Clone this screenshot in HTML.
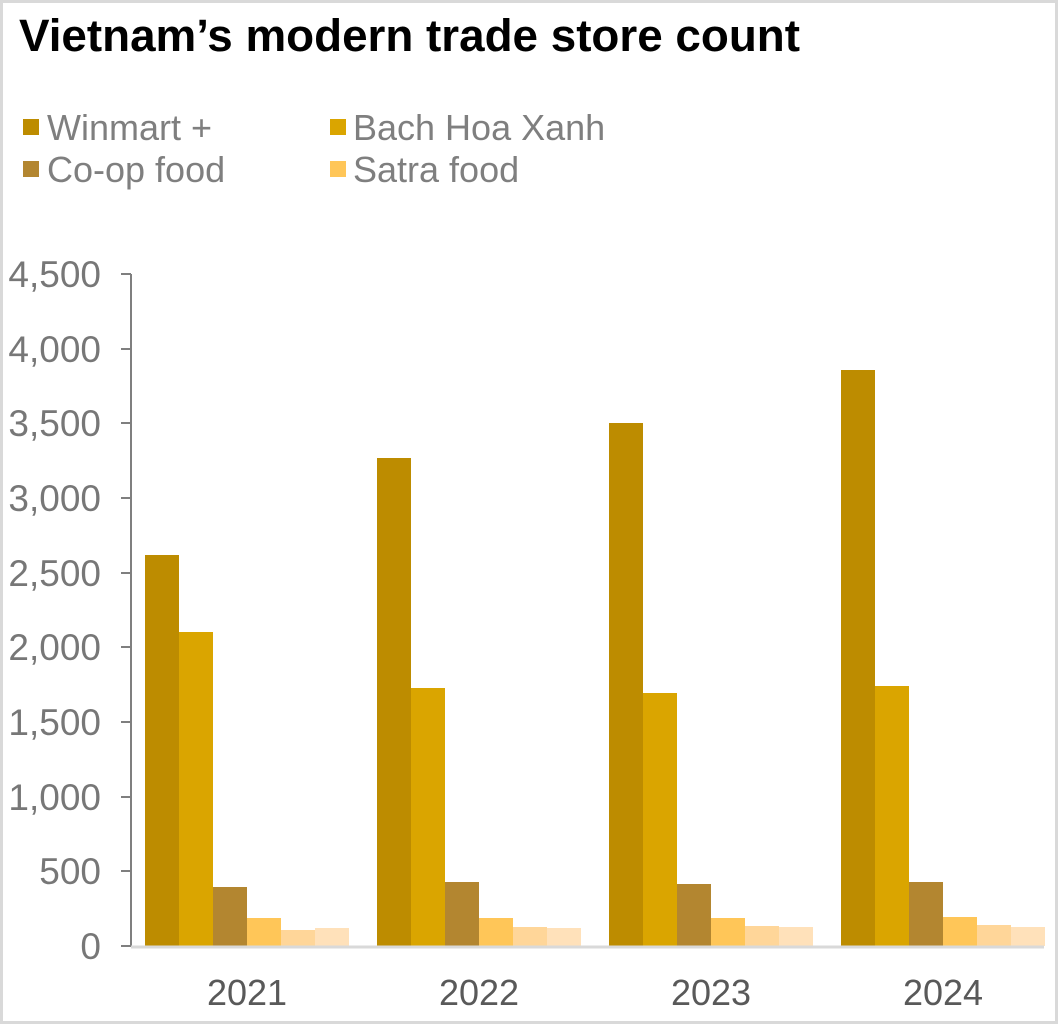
<!DOCTYPE html>
<html><head><style>body{margin:0;background:#fff}</style></head><body>
<svg width="1058" height="1024" xmlns="http://www.w3.org/2000/svg" font-family="Liberation Sans, Arial, sans-serif">
<rect x="1.5" y="1.5" width="1055" height="1021" fill="#fff" stroke="#d9d9d9" stroke-width="3"/>
<text x="19" y="51" font-size="45" font-weight="bold" fill="#000" textLength="781" lengthAdjust="spacingAndGlyphs">Vietnam’s modern trade store count</text>
<g font-size="36" fill="#7f7f7f">
<rect x="23" y="119" width="16" height="16" fill="#BD8C00"/><text x="47" y="140">Winmart +</text>
<rect x="330" y="119" width="16" height="16" fill="#DAA500"/><text x="353" y="140">Bach Hoa Xanh</text>
<rect x="23" y="161" width="16" height="16" fill="#B38630"/><text x="47" y="182">Co-op food</text>
<rect x="330" y="161" width="16" height="16" fill="#FFC658"/><text x="353" y="182">Satra food</text>
</g>
<g font-size="37" fill="#777" text-anchor="end">
<text x="101" y="959">0</text><text x="101" y="884">500</text><text x="101" y="810">1,000</text>
<text x="101" y="735">1,500</text><text x="101" y="660">2,000</text><text x="101" y="586">2,500</text>
<text x="101" y="511">3,000</text><text x="101" y="436">3,500</text><text x="101" y="362">4,000</text>
<text x="101" y="287">4,500</text>
</g>
<g stroke="#7f7f7f" stroke-width="2">
<line x1="131" y1="274" x2="131" y2="947"/>
<line x1="121" y1="274" x2="131" y2="274"/><line x1="121" y1="349" x2="131" y2="349"/>
<line x1="121" y1="423" x2="131" y2="423"/><line x1="121" y1="498" x2="131" y2="498"/>
<line x1="121" y1="573" x2="131" y2="573"/><line x1="121" y1="647" x2="131" y2="647"/>
<line x1="121" y1="722" x2="131" y2="722"/><line x1="121" y1="797" x2="131" y2="797"/>
<line x1="121" y1="871" x2="131" y2="871"/><line x1="121" y1="946" x2="131" y2="946"/>
</g>
<g>
<rect x="145" y="555" width="34" height="391" fill="#BD8C00"/><rect x="179" y="632" width="34" height="314" fill="#DAA500"/><rect x="213" y="887" width="34" height="59" fill="#B38630"/><rect x="247" y="918" width="34" height="28" fill="#FFC658"/><rect x="281" y="930" width="34" height="16" fill="#FFD699"/><rect x="315" y="928" width="34" height="18" fill="#FFE1BA"/>
<rect x="377" y="458" width="34" height="488" fill="#BD8C00"/><rect x="411" y="688" width="34" height="258" fill="#DAA500"/><rect x="445" y="882" width="34" height="64" fill="#B38630"/><rect x="479" y="918" width="34" height="28" fill="#FFC658"/><rect x="513" y="927" width="34" height="19" fill="#FFD699"/><rect x="547" y="928" width="34" height="18" fill="#FFE1BA"/>
<rect x="609" y="423" width="34" height="523" fill="#BD8C00"/><rect x="643" y="693" width="34" height="253" fill="#DAA500"/><rect x="677" y="884" width="34" height="62" fill="#B38630"/><rect x="711" y="918" width="34" height="28" fill="#FFC658"/><rect x="745" y="926" width="34" height="20" fill="#FFD699"/><rect x="779" y="927" width="34" height="19" fill="#FFE1BA"/>
<rect x="841" y="370" width="34" height="576" fill="#BD8C00"/><rect x="875" y="686" width="34" height="260" fill="#DAA500"/><rect x="909" y="882" width="34" height="64" fill="#B38630"/><rect x="943" y="917" width="34" height="29" fill="#FFC658"/><rect x="977" y="925" width="34" height="21" fill="#FFD699"/><rect x="1011" y="927" width="34" height="19" fill="#FFE1BA"/>
</g>
<line x1="131" y1="947" x2="1044" y2="947" stroke="#d9d9d9" stroke-width="3"/>
<g font-size="36" fill="#595959" text-anchor="middle">
<text x="247" y="1005">2021</text><text x="479" y="1005">2022</text><text x="711" y="1005">2023</text><text x="943" y="1005">2024</text>
</g>
</svg>
</body></html>
